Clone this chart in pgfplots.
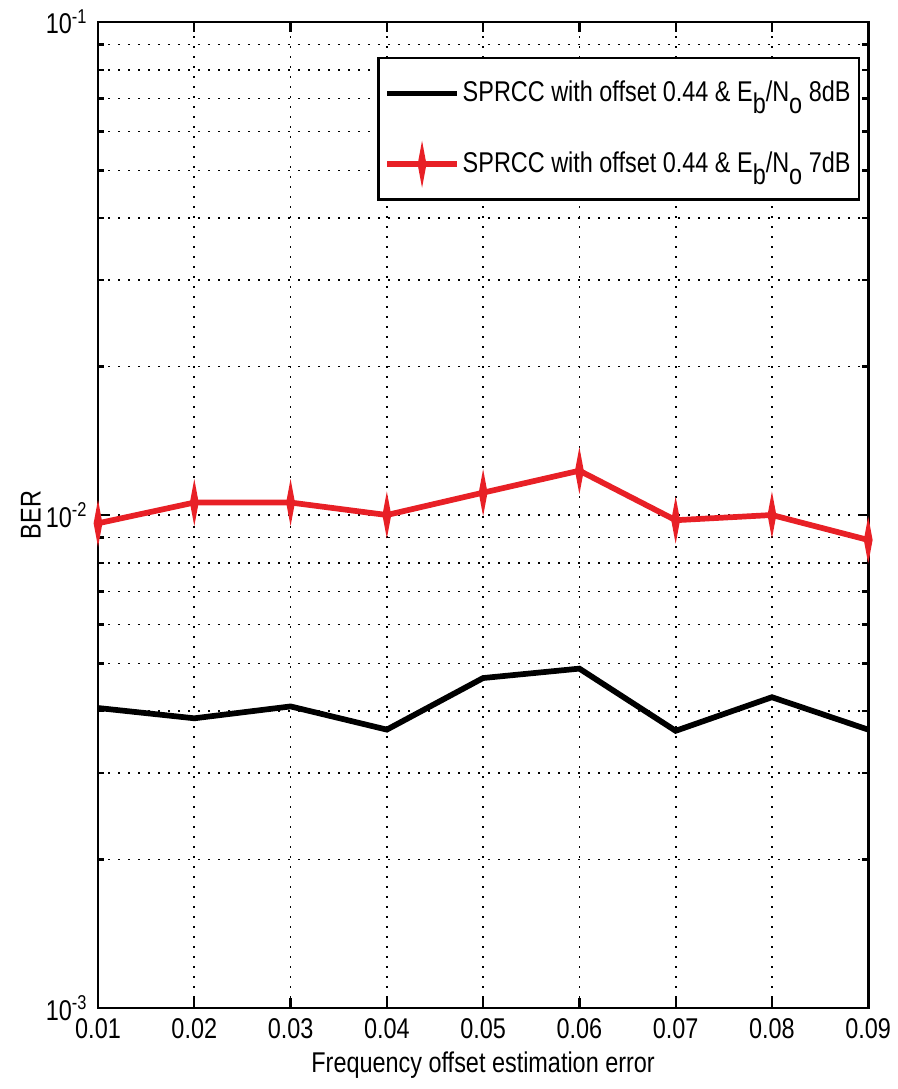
\documentclass[border=0pt]{standalone}
\usepackage{fontspec}
\setmainfont{Liberation Sans}[FakeStretch=0.82]
\usepackage{pgfplots}
\pgfplotsset{compat=1.18}
\definecolor{matred}{RGB}{232,32,38}
\begin{document}
\fontsize{10}{12}\selectfont
\begin{tikzpicture}
\begin{axis}[
  name=ax,
  scale only axis,
  width=269.5pt, height=345pt,
  xmin=0.01, xmax=0.09,
  ymode=log, ymin=1e-3, ymax=1e-1,
  scaled x ticks=false,
  xtick={0.01,0.02,0.03,0.04,0.05,0.06,0.07,0.08,0.09},
  xticklabels={0.01,0.02,0.03,0.04,0.05,0.06,0.07,0.08,0.09},
  ytick={0.001,0.01,0.1},
  yticklabels={10\textsuperscript{-3},10\textsuperscript{-2},10\textsuperscript{-1}},
  grid=both,
  major grid style={black, line width=0.6pt, dash pattern=on 0.7pt off 2.8pt},
  minor grid style={black, line width=0.6pt, dash pattern=on 0.7pt off 2.8pt},
  axis line style={line width=1pt},
  every tick/.style={black, line width=0.8pt},
  major tick length=3.5pt, minor tick length=2pt,
  tick align=inside,
  xlabel={Frequency offset estimation error},
  ylabel={BER},
  xlabel style={yshift=2pt},
  ylabel style={yshift=-5pt},
  tick label style={font=\fontsize{10}{12}\selectfont},
  label style={font=\fontsize{10}{12}\selectfont},
  legend style={at={(0.9896,0.9645)}, anchor=north east, draw=black, line width=0.8pt,
    font=\fontsize{10}{12}\selectfont, inner xsep=2pt, inner ysep=7pt, row sep=14pt,
    nodes={inner sep=1pt}},
  legend cell align=left,
  legend image code/.code={\draw[mark repeat=2,mark phase=2,#1] plot coordinates {(0cm,0cm) (0.43cm,0cm) (0.86cm,0cm)};},
]
\addplot[black, line width=2pt, no marks] coordinates {
(0.01,0.00406) (0.02,0.00387) (0.03,0.00409) (0.04,0.00367) (0.05,0.00467)
(0.06,0.00488) (0.07,0.00365) (0.08,0.00427) (0.09,0.00367)};
\addlegendentry{SPRCC with offset 0.44 \& E\raisebox{-0.8ex}{b}/N\raisebox{-0.8ex}{o} 8dB}
\addplot[matred, line width=2pt, mark=diamond*, mark size=2.8pt, mark options={xscale=0.25, solid}] coordinates {
(0.01,0.00962) (0.02,0.0106) (0.03,0.0106) (0.04,0.0100) (0.05,0.0111)
(0.06,0.0123) (0.07,0.00976) (0.08,0.0100) (0.09,0.00890)};
\addlegendentry{SPRCC with offset 0.44 \& E\raisebox{-0.8ex}{b}/N\raisebox{-0.8ex}{o} 7dB}
\end{axis}
\pgfresetboundingbox
\path ([xshift=-34.3pt,yshift=-28.35pt]ax.south west) rectangle ([xshift=10.15pt,yshift=7.7pt]ax.north east);
\end{tikzpicture}
\end{document}
